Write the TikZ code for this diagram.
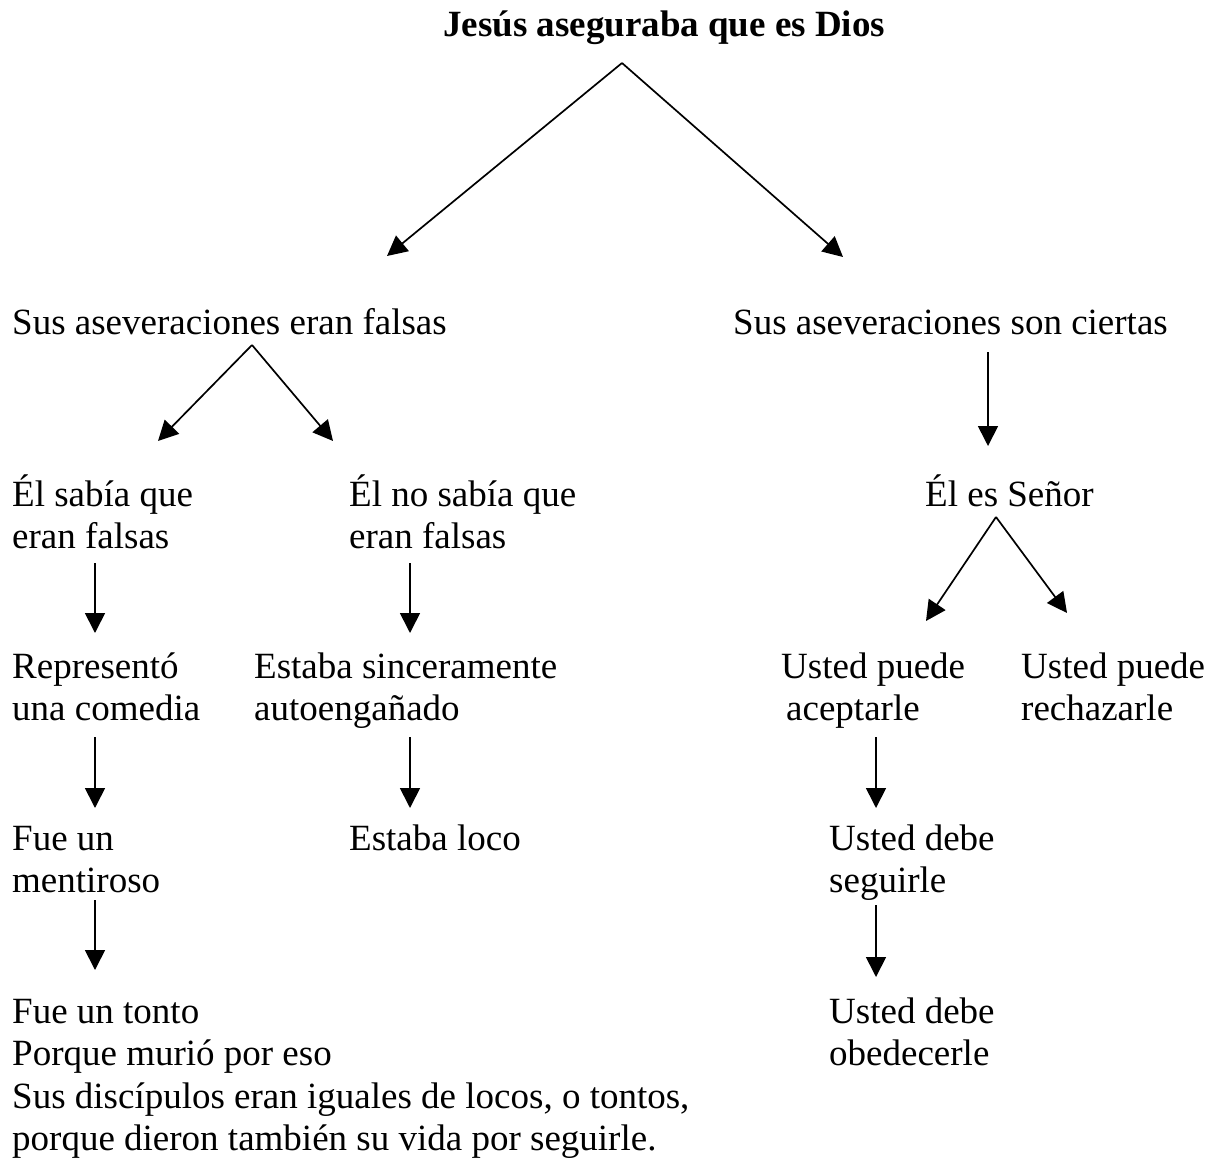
\documentclass[tikz,border=0pt]{standalone}
\usepackage{fontspec}
\setmainfont{Liberation Serif}
\usetikzlibrary{arrows.meta}

\tikzset{
  txt/.style={anchor=base west, inner sep=0pt, align=left, font=\fontsize{37}{42.5}\selectfont},
  arr/.style={line width=1.7pt, -{Triangle[length=20pt,width=20pt]}},
}

\begin{document}
\begin{tikzpicture}[x=1pt,y=-1pt]
                            \useasboundingbox (0,0) rectangle (1212,1158);
                            % base of a two-line node is its last line
                            \node[txt, font=\fontsize{37}{42.5}\selectfont\bfseries] (dios) at (443,37) {Jesús aseguraba que es Dios};
                            \node[txt] (falsas) at (12,334) {Sus aseveraciones eran falsas};
                            \node[txt] (ciertas) at (733,334) {Sus aseveraciones son ciertas};
                            \node[txt] (sabia) at (12,548.5) {Él sabía que\\eran falsas};
                            \node[txt] (nosabia) at (349,548.5) {Él no sabía que\\eran falsas};
                            \node[txt] (senor) at (925,506) {Él es Señor};
                            \node[txt] (comedia) at (12,720.5) {Representó\\una comedia};
                            \node[txt] (engano) at (254,720.5) {Estaba sinceramente\\autoengañado};
                            \node[txt] (aceptar) at (781,720.5) {Usted puede\\\hspace{5pt}aceptarle};
                            \node[txt] (rechazar) at (1021,720.5) {Usted puede\\rechazarle};
                            \node[txt] (mentiroso) at (12,892.5) {Fue un\\mentiroso};
                            \node[txt] (loco) at (349,850) {Estaba loco};
                            \node[txt] (seguir) at (829,892.5) {Usted debe\\seguirle};
                            \node[txt] (tonto) at (12,1150.5) {Fue un tonto\\Porque murió por eso\\Sus discípulos eran iguales de locos, o tontos,\\porque dieron también su vida por seguirle.};
                            \node[txt] (obedecer) at (829,1065.5) {Usted debe\\obedecerle};
                            % arrow ends
                            \coordinate (d0) at (622,63);
                            \coordinate (d1) at (387,256);
                            \coordinate (d2) at (843,257);
                            \coordinate (f0) at (252,345);
                            \coordinate (f1) at (158,441);
                            \coordinate (f2) at (333,441);
                            \coordinate (s0) at (996,517);
                            \coordinate (s1) at (926,621);
                            \coordinate (s2) at (1067,613);
                            \draw[arr] (d0) -- (d1);
                            \draw[arr] (d0) -- (d2);
                            \draw[arr] (f0) -- (f1);
                            \draw[arr] (f0) -- (f2);
                            \draw[arr] (s0) -- (s1);
                            \draw[arr] (s0) -- (s2);
                            \draw[arr] (988,352) -- (988,446);
                            \draw[arr] (95,563) -- (95,633);
                            \draw[arr] (95,737) -- (95,808);
                            \draw[arr] (95,900) -- (95,970);
                            \draw[arr] (410,563) -- (410,633);
                            \draw[arr] (410,737) -- (410,808);
                            \draw[arr] (876,737) -- (876,808);
                            \draw[arr] (876,905) -- (876,977);
                        \end{tikzpicture}
\end{document}
